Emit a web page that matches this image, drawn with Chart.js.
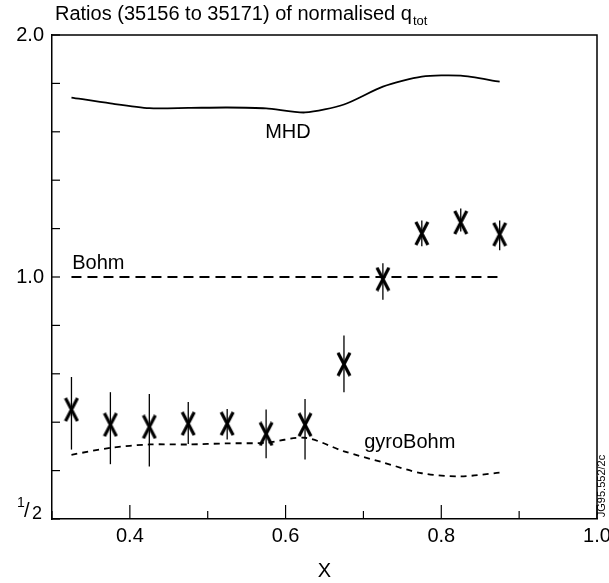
<!DOCTYPE html>
<html>
<head>
<meta charset="utf-8">
<script src="https://cdn.jsdelivr.net/npm/chart.js@4"></script>
<style>
  html, body { margin: 0; padding: 0; background: #fff; }
  #wrap { width: 609px; height: 583px; }
</style>
</head>
<body>
<div id="wrap"><canvas id="chart" width="609" height="583"></canvas></div>
<script>
// values
const xPos = [0.325, 0.375, 0.425, 0.475, 0.525, 0.575, 0.625, 0.675, 0.725, 0.775, 0.825, 0.875];
const ratio = [0.684, 0.655, 0.651, 0.657, 0.657, 0.638, 0.655, 0.779, 0.994, 1.133, 1.169, 1.130];
const errHigh = [0.751, 0.719, 0.715, 0.699, 0.685, 0.684, 0.705, 0.846, 1.040, 1.176, 1.217, 1.176];
const errLow = [0.610, 0.585, 0.581, 0.620, 0.628, 0.595, 0.593, 0.719, 0.937, 1.092, 1.139, 1.080];
const mhd = [1.672, 1.644, 1.622, 1.623, 1.625, 1.621, 1.602, 1.639, 1.725, 1.775, 1.780, 1.750];
const bohm = [1, 1, 1, 1, 1, 1, 1, 1, 1, 1, 1, 1];
const gyroBohm = [0.601, 0.613, 0.619, 0.619, 0.621, 0.622, 0.631, 0.607, 0.588, 0.570, 0.565, 0.571];

// y ticks: five steps per factor of two, labels only at 1/2, 1.0, 2.0
const yTicks = [-5, -4, -3, -2, -1, 0, 1, 2, 3, 4, 5].map(k => Math.pow(2, k / 5));
const yLabels = { '1': '1.0', '2': '2.0' };
const xLabels = [0.4, 0.6, 0.8, 1.0];

const FONT = '"Liberation Sans", Arial, Helvetica, sans-serif';

// X-shaped marker
function makeMarker() {
  const c = document.createElement('canvas');
  c.width = 16; c.height = 25;
  const g = c.getContext('2d');
  g.strokeStyle = '#000';
  g.lineWidth = 3.2;
  g.beginPath();
  g.moveTo(2, 1); g.lineTo(14, 24);
  g.moveTo(14, 1); g.lineTo(2, 24);
  g.stroke();
  return c;
}

const pts = arr => arr.map((v, i) => ({ x: xPos[i], y: v }));

const decor = {
  id: 'decor',
  beforeDraw(chart) {
    const ctx = chart.ctx;
    ctx.save();
    ctx.fillStyle = '#fff';
    ctx.fillRect(0, 0, chart.width, chart.height);
    ctx.restore();
  },
  afterDatasetsDraw(chart) {
    const ctx = chart.ctx;
    const xs = chart.scales.x, ys = chart.scales.y;
    // error bars
    ctx.save();
    ctx.strokeStyle = '#000';
    ctx.lineWidth = 1.3;
    xPos.forEach((x, i) => {
      const px = xs.getPixelForValue(x);
      ctx.beginPath();
      ctx.moveTo(px, ys.getPixelForValue(errHigh[i]));
      ctx.lineTo(px, ys.getPixelForValue(errLow[i]));
      ctx.stroke();
    });
    ctx.restore();
  },
  afterDraw(chart) {
    const ctx = chart.ctx;
    const a = chart.chartArea;
    const xs = chart.scales.x, ys = chart.scales.y;
    ctx.save();
    ctx.strokeStyle = '#000';
    ctx.lineWidth = 1.5;
    // top and right frame
    ctx.beginPath();
    ctx.moveTo(a.left, a.top); ctx.lineTo(a.right, a.top); ctx.lineTo(a.right, a.bottom);
    ctx.stroke();
    // inward ticks
    ctx.lineWidth = 1.2;
    ys.ticks.forEach(t => {
      const py = ys.getPixelForValue(t.value);
      ctx.beginPath(); ctx.moveTo(a.left, py); ctx.lineTo(a.left + 8, py); ctx.stroke();
    });
    xs.ticks.forEach(t => {
      const px = xs.getPixelForValue(t.value);
      const len = Math.round(t.value * 10) % 2 === 0 ? 14 : 8;
      ctx.beginPath(); ctx.moveTo(px, a.bottom); ctx.lineTo(px, a.bottom - len); ctx.stroke();
    });

    ctx.fillStyle = '#000';
    // title with subscript
    ctx.textBaseline = 'alphabetic';
    ctx.textAlign = 'left';
    ctx.font = '20px ' + FONT;
    const title = 'Ratios (35156 to 35171) of normalised q';
    ctx.fillText(title, 55, 20);
    const tw = ctx.measureText(title).width;
    ctx.font = '13px ' + FONT;
    ctx.fillText('tot', 55 + tw + 1, 25);

    // 1/2 label at bottom of y axis
    const yHalf = ys.getPixelForValue(0.5);
    ctx.font = '14px ' + FONT;
    ctx.fillText('1', 17, yHalf - 12);
    ctx.font = '20px ' + FONT;
    ctx.fillText('/', 24, yHalf - 2);
    ctx.font = '18px ' + FONT;
    ctx.fillText('2', 32, yHalf);

    // series labels
    ctx.font = '20px ' + FONT;
    ctx.textBaseline = 'middle';
    ctx.textAlign = 'center';
    ctx.fillText('MHD', xs.getPixelForValue(0.603), ys.getPixelForValue(1.514));
    ctx.textAlign = 'left';
    ctx.fillText('Bohm', xs.getPixelForValue(0.326), ys.getPixelForValue(1.04));
    ctx.fillText('gyroBohm', xs.getPixelForValue(0.701), ys.getPixelForValue(0.622));

    // figure code
    ctx.translate(a.right + 5, a.bottom - 33);
    ctx.rotate(-Math.PI / 2);
    ctx.textAlign = 'center';
    ctx.font = '11px ' + FONT;
    ctx.fillText('JG95.552/2c', 0, 0);
    ctx.restore();
  }
};

new Chart(document.getElementById('chart'), {
  type: 'line',
  data: {
    datasets: [
      {
        label: 'MHD', data: pts(mhd), borderColor: '#000', borderWidth: 1.8,
        pointRadius: 0, tension: 0.25, fill: false
      },
      {
        label: 'Bohm', data: pts(bohm), borderColor: '#000', borderWidth: 1.8,
        borderDash: [10, 6], pointRadius: 0, fill: false
      },
      {
        label: 'gyroBohm', data: pts(gyroBohm), borderColor: '#000', borderWidth: 1.8,
        borderDash: [6, 5], pointRadius: 0, tension: 0.3, fill: false
      },
      {
        label: 'ratio', data: pts(ratio), showLine: false,
        pointStyle: makeMarker(), pointRadius: 10, borderColor: '#000', backgroundColor: '#000'
      }
    ]
  },
  options: {
    responsive: false,
    animation: false,
    layout: { padding: { top: 35, right: 12, bottom: 0, left: 0 } },
    plugins: { legend: { display: false }, tooltip: { enabled: false }, title: { display: false } },
    scales: {
      x: {
        type: 'linear', min: 0.3, max: 1.0,
        afterFit: s => { s.height = 64; s.paddingLeft = 0; s.paddingRight = 0; },
        ticks: {
          stepSize: 0.1, padding: 5, maxRotation: 0, autoSkip: false,
          color: '#000', font: { family: FONT, size: 20 },
          callback: v => xLabels.some(l => Math.abs(l - v) < 1e-6) ? v.toFixed(1) : ''
        },
        grid: { display: true, drawOnChartArea: false, drawTicks: false },
        border: { display: true, color: '#000', width: 1.5 },
        title: { display: true, text: 'X', color: '#000', font: { family: FONT, size: 20 }, padding: { top: 0, bottom: 0 } }
      },
      y: {
        type: 'logarithmic', min: 0.5, max: 2,
        afterFit: s => { s.width = 52; s.paddingTop = 0; s.paddingBottom = 0; },
        afterBuildTicks: s => { s.ticks = yTicks.map(v => ({ value: v })); },
        ticks: {
          padding: 8, autoSkip: false, color: '#000', font: { family: FONT, size: 20 },
          callback: v => {
            const k = String(Math.round(v * 1000) / 1000);
            return yLabels[k] || '';
          }
        },
        grid: { display: true, drawOnChartArea: false, drawTicks: false },
        border: { display: true, color: '#000', width: 1.5 }
      }
    }
  },
  plugins: [decor]
});
</script>
</body>
</html>
